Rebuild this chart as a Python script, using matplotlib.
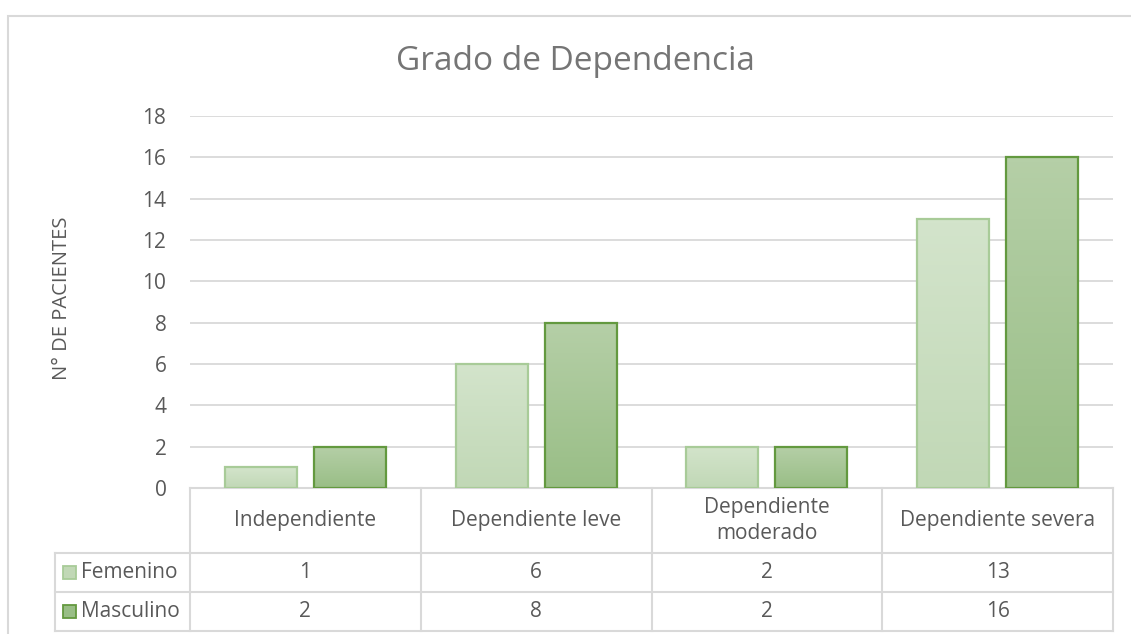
import matplotlib
matplotlib.use("Agg")
import matplotlib.pyplot as plt
import numpy as np
from matplotlib.colors import LinearSegmentedColormap
from matplotlib.patches import Rectangle
from matplotlib.lines import Line2D

categories = ["Independiente", "Dependiente leve", "Dependiente\nmoderado", "Dependiente severa"]
series_names = ["Femenino", "Masculino"]
femenino = [1, 6, 2, 13]
masculino = [2, 8, 2, 16]
yticks = [0, 2, 4, 6, 8, 10, 12, 14, 16, 18]
title = "Grado de Dependencia"
ylabel = "N° DE PACIENTES"

FONT = "Open Sans"
TXT = "#595959"
GRID = "#d9d9d9"
FS = 15
fills = [("#d3e4cb", "#c1d8b6"), ("#b5cfa7", "#99be86")]
edges = ["#a8cb98", "#63993f"]

W, H = 1131, 634
fig = plt.figure(figsize=(W / 100, H / 100), dpi=100)

def px(x, y):
    return x / W, 1 - y / H

# outer chart border
fig.patches.append(Rectangle(px(8, 640), (1140 - 8) / W, (640 - 16) / H,
                             transform=fig.transFigure, fill=False,
                             edgecolor=GRID, lw=1.5))

l, b = px(190, 488)
r, t = px(1113, 116)
ax = fig.add_axes([l, b, r - l, t - b])
ax.set_xlim(-0.5, 3.5)
ax.set_ylim(0, 18)
for s in ax.spines.values():
    s.set_visible(False)
ax.set_yticks(yticks)
ax.set_yticklabels([str(v) for v in yticks], fontsize=FS, color=TXT, family=FONT)
ax.tick_params(axis="y", length=0, pad=17)
ax.set_xticks([])
ax.yaxis.grid(True, color=GRID, lw=1.3)
ax.set_axisbelow(True)

x = np.arange(len(categories))
bw = 0.312
off = 0.193
for i, (vals, (c_top, c_bot), ec) in enumerate(zip([femenino, masculino], fills, edges)):
    pos = x - off if i == 0 else x + off
    bars = ax.bar(pos, vals, width=bw, color="none", edgecolor=ec, lw=1.6, zorder=3)
    cmap = LinearSegmentedColormap.from_list("g%d" % i, [c_bot, c_top])
    for bar in bars:
        x0, w_, h_ = bar.get_x(), bar.get_width(), bar.get_height()
        grad = np.linspace(0, 1, 64).reshape(-1, 1)
        im = ax.imshow(grad, cmap=cmap, origin="lower", aspect="auto",
                       extent=(x0, x0 + w_, 0, h_), zorder=2)
        im.set_clip_path(bar)
ax.set_xlim(-0.5, 3.5)
ax.set_ylim(0, 18)

fig.text(575 / W, 1 - 62 / H, title, ha="center", va="center", fontsize=24,
         color="#757575", family=FONT)
fig.text(62 / W, 1 - 298 / H, ylabel, rotation=90, ha="center", va="center",
         fontsize=14.5, color=TXT, family=FONT)

# data table below the axes (x in data coordinates, y in axes fraction)
trans = ax.get_xaxis_transform()
axh = 488 - 116
def yf(ypx):
    return (488 - ypx) / axh
xleft = -0.5 - (190 - 55) / 230.75
y0, y1, y2, y3 = yf(488), yf(553), yf(592), yf(631)
lk = dict(color=GRID, lw=1.5, transform=trans, clip_on=False, zorder=1)
ax.add_line(Line2D([-0.5, 3.5], [y0, y0], **lk))
for yy in (y1, y2, y3):
    ax.add_line(Line2D([xleft, 3.5], [yy, yy], **lk))
for xx in (-0.5, 0.5, 1.5, 2.5, 3.5):
    ax.add_line(Line2D([xx, xx], [y0, y3], **lk))
ax.add_line(Line2D([xleft, xleft], [y1, y3], **lk))

for i, c in enumerate(categories):
    ax.text(i, (y0 + y1) / 2, c, transform=trans, ha="center", va="center",
            fontsize=FS, color=TXT, family=FONT, linespacing=1.3)
for r_i, (name, vals) in enumerate(zip(series_names, [femenino, masculino])):
    yc = (y1 + y2) / 2 if r_i == 0 else (y2 + y3) / 2
    for i, v in enumerate(vals):
        ax.text(i, yc, str(v), transform=trans, ha="center", va="center",
                fontsize=FS, color=TXT, family=FONT)
    # legend key
    kx0 = xleft + (63 - 55) / 230.75
    kw = 13 / 230.75
    kh = 13 / axh
    ax.add_patch(Rectangle((kx0, yc - kh / 2), kw, kh, transform=trans,
                           facecolor=fills[r_i][1], edgecolor=edges[r_i], lw=1.3,
                           clip_on=False))
    ax.text(xleft + (81 - 55) / 230.75, yc, name, transform=trans, ha="left",
            va="center", fontsize=FS, color=TXT, family=FONT)

fig.savefig("out.png", dpi=100, facecolor="white")
